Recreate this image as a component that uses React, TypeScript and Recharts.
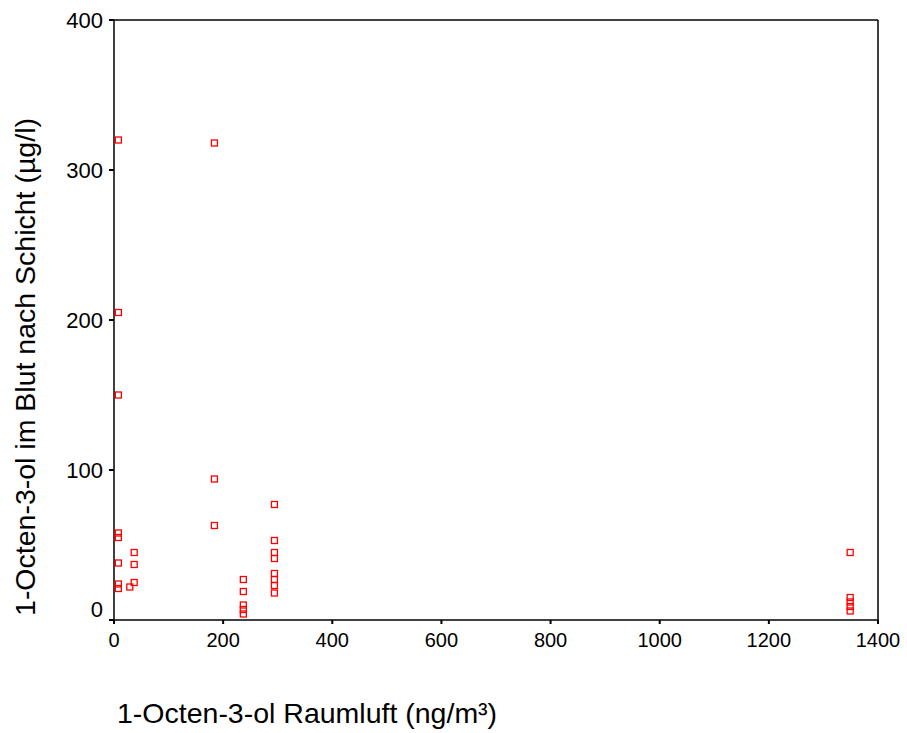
import React from 'react';
import {
    ScatterChart,
    Scatter,
    XAxis,
    YAxis,
    ReferenceLine,
    Label,
} from 'recharts';

// 1-Octen-3-ol in room air (ng/m³) vs. in blood after shift (µg/l)
const airValues = [
    8, 8, 8, 8, 8, 8, 8, 8,
    29,
    37, 37, 37,
    184, 184, 184,
    237, 237, 237, 237, 237,
    294, 294, 294, 294, 294, 294, 294, 294,
    1349, 1349, 1349, 1349, 1349,
];
const bloodValues = [
    320, 205, 150, 58, 55, 38, 24, 21,
    22,
    45, 37, 25,
    318, 94, 63,
    27, 19, 10, 7, 4,
    77, 53, 45, 41, 31, 27, 23, 18,
    45, 15, 12, 9, 6,
];
const xTicks = [0, 200, 400, 600, 800, 1000, 1200, 1400];
const yTicks = [0, 100, 200, 300, 400];

const points = airValues.map((x, i) => ({ x, y: bloodValues[i] }));

const FONT = '"Liberation Sans", Arial, sans-serif';

const HollowSquare = (props: any) => {
    const { cx, cy } = props;
    if (cx == null || cy == null) return null;
    return (
        <rect
            x={cx - 3}
            y={cy - 3}
            width={6}
            height={6}
            fill="none"
            stroke="#ff0000"
            strokeWidth={1.3}
        />
    );
};

// the "0" on the y axis sits a bit higher so it doesn't clash with the x axis "0"
const YTick = (props: any) => {
    const { x, y, payload } = props;
    const shift = payload.value === 0 ? -11 : 0;
    return (
        <text x={x} y={y + shift} dy="0.355em" textAnchor="end" fontSize={22} fontFamily={FONT} fill="#000">
            {payload.value}
        </text>
    );
};

export default function App() {
    return (
        <div style={{ position: 'absolute', left: 0, top: 0, width: 907, height: 733, background: '#fff' }}>
            <ScatterChart width={907} height={733} margin={{ top: 20, right: 29, bottom: 73, left: 44 }}>
                <XAxis
                    type="number"
                    dataKey="x"
                    domain={[0, 1400]}
                    ticks={xTicks}
                    interval={0}
                    height={40}
                    axisLine={{ stroke: '#000', strokeWidth: 1.5 }}
                    tickLine={{ stroke: '#000', strokeWidth: 2 }}
                    tickSize={4}
                    tickMargin={9}
                    tick={{ fill: '#000', fontSize: 20, fontFamily: FONT }}
                >
                    <Label
                        content={() => (
                            <text x={117} y={723} textAnchor="start" fontSize={28.5} fontFamily={FONT} fill="#000">
                                1-Octen-3-ol Raumluft (ng/m³)
                            </text>
                        )}
                    />
                </XAxis>
                <YAxis
                    type="number"
                    dataKey="y"
                    domain={[0, 400]}
                    ticks={yTicks}
                    interval={0}
                    width={70}
                    axisLine={{ stroke: '#000', strokeWidth: 1.5 }}
                    tickLine={{ stroke: '#000', strokeWidth: 2 }}
                    tickSize={5}
                    tickMargin={6}
                    tick={<YTick />}
                >
                    <Label
                        content={() => (
                            <text
                                x={35}
                                y={367}
                                transform="rotate(-90 35 367)"
                                textAnchor="middle"
                                fontSize={28.5}
                                fontFamily={FONT}
                                fill="#000"
                            >
                                1-Octen-3-ol im Blut nach Schicht (µg/l)
                            </text>
                        )}
                    />
                </YAxis>
                <ReferenceLine y={400} stroke="#000" strokeWidth={1.5} />
                <ReferenceLine x={1400} stroke="#000" strokeWidth={1.5} />
                <Scatter data={points} shape={<HollowSquare />} isAnimationActive={false} />
            </ScatterChart>
        </div>
    );
}
